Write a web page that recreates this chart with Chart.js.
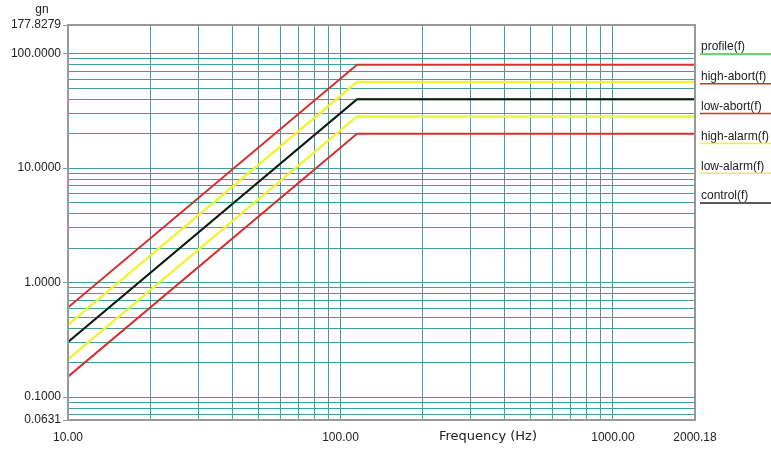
<!DOCTYPE html>
<html>
<head>
<meta charset="utf-8">
<script src="https://cdn.jsdelivr.net/npm/chart.js@4/dist/chart.umd.min.js"></script>
<style>
html,body{margin:0;padding:0;background:#fff;}
#wrap{width:771px;height:450px;position:relative;}
</style>
</head>
<body>
<div id="wrap"><canvas id="c" width="771" height="450"></canvas></div>
<script>
// ---- data ----
const frequencies = [10, 115, 2000.18];
const profileVals   = [0.3025, 40, 40];
const controlVals   = [0.3025, 40, 40];
const highAbortVals = [0.605, 80, 80];
const lowAbortVals  = [0.151, 20, 20];
const highAlarmVals = [0.428, 56.6, 56.6];
const lowAlarmVals  = [0.214, 28.3, 28.3];

const xMin = 10, xMax = 2000.18;
const yMin = 0.0631, yMax = 177.8279;
const xGridValues = [10,20,30,40,50,60,70,80,90,100,200,300,400,500,600,700,800,900,1000,2000.18];
const xLabelValues = [10, 100, 1000, 2000.18];
const yGridValues = [0.0631,0.07,0.08,0.09,0.1,0.2,0.3,0.4,0.5,0.6,0.7,0.8,0.9,1,2,3,4,5,6,7,8,9,10,20,30,40,50,60,70,80,90,100,177.8279];
const yLabelValues = [0.0631, 0.1, 1, 10, 100, 177.8279];

const legendNames = ['profile(f)','high-abort(f)','low-abort(f)','high-alarm(f)','low-alarm(f)','control(f)'];
const legendColors = ['#3fc43f','#d03232','#d03232','#eeee44','#eeee44','#222222'];

const GRID = '#3f9f9f';
const FRAME = '#999999';
const RED = '#d63030', YEL = '#f2f23a', BLK = '#141414', GRN = '#3fc43f';

function pts(vals){ return frequencies.map((f,i)=>({x:f,y:vals[i]})); }
function near(a,b){ return Math.abs(a-b) < 1e-6*Math.max(1,Math.abs(b)); }
function isIn(list,v){ return list.some(t=>near(t,v)); }

const textPlugin = {
  id:'extraText',
  afterDraw(chart){
    const ctx = chart.ctx;
    const ca = chart.chartArea;
    ctx.save();
    ctx.strokeStyle = FRAME; ctx.lineWidth = 2;
    ctx.strokeRect(ca.left, ca.top, ca.right-ca.left, ca.bottom-ca.top);
    ctx.fillStyle = '#222';
    ctx.font = '12px "Liberation Sans", Arial, sans-serif';
    ctx.textAlign = 'center'; ctx.textBaseline = 'middle';
    ctx.fillText('gn', 42, 10);
    ctx.font = '13px "DejaVu Sans", Verdana, sans-serif';
    ctx.fillText('Frequency (Hz)', 488, 437);
    ctx.font = '12px "Liberation Sans", Arial, sans-serif';
    ctx.textAlign = 'left';
    legendNames.forEach((n,i)=>{
      const y = 47 + i*29.8;
      ctx.fillStyle = '#222';
      ctx.fillText(n, 701, y);
      ctx.strokeStyle = legendColors[i];
      ctx.lineWidth = 1.5;
      ctx.beginPath(); ctx.moveTo(700, y+7); ctx.lineTo(771, y+7); ctx.stroke();
    });
    ctx.restore();
  }
};

new Chart(document.getElementById('c'), {
  type:'line',
  data:{
    datasets:[
      {label:'control(f)', data:pts(controlVals), borderColor:BLK, borderWidth:2},
      {label:'high-abort(f)', data:pts(highAbortVals), borderColor:RED, borderWidth:2},
      {label:'low-abort(f)', data:pts(lowAbortVals), borderColor:RED, borderWidth:2},
      {label:'high-alarm(f)', data:pts(highAlarmVals), borderColor:YEL, borderWidth:2.5},
      {label:'low-alarm(f)', data:pts(lowAlarmVals), borderColor:YEL, borderWidth:2.5},
      {label:'profile(f)', data:pts(profileVals), borderColor:GRN, borderWidth:2}
    ]
  },
  options:{
    responsive:false,
    animation:false,
    events:[],
    elements:{point:{radius:0}, line:{tension:0, fill:false}},
    layout:{padding:{top:25,right:76,left:0,bottom:0}},
    plugins:{legend:{display:false}, tooltip:{enabled:false}},
    scales:{
      x:{
        type:'logarithmic', min:xMin, max:xMax,
        afterBuildTicks(s){ s.ticks = xGridValues.map(v=>({value:v})); },
        afterFit(s){ s.height = 30; },
        grid:{color:(c)=> (c.tick && (near(c.tick.value,xMin)||near(c.tick.value,xMax))) ? FRAME : GRID, lineWidth:1, drawTicks:false},
        border:{display:true, color:FRAME, width:2},
        ticks:{
          autoSkip:false, maxRotation:0, padding:10,
          color:'#222', font:{family:'"Liberation Sans", Arial, sans-serif', size:12},
          callback(v){ return isIn(xLabelValues, v) ? Number(v).toFixed(2) : ''; }
        }
      },
      y:{
        type:'logarithmic', min:yMin, max:yMax,
        afterBuildTicks(s){ s.ticks = yGridValues.map(v=>({value:v})); },
        afterFit(s){ s.width = 68; },
        grid:{
          color:(c)=> (c.tick && (near(c.tick.value,yMin)||near(c.tick.value,yMax))) ? FRAME : GRID,
          lineWidth:1, drawTicks:true, tickLength:5,
          tickColor:(c)=> (c.tick && isIn(yLabelValues,c.tick.value)) ? FRAME : 'rgba(0,0,0,0)'
        },
        border:{display:true, color:FRAME, width:2},
        ticks:{
          autoSkip:false, padding:2,
          color:'#222', font:{family:'"Liberation Sans", Arial, sans-serif', size:12},
          callback(v){ return isIn(yLabelValues, v) ? Number(v).toFixed(4) : ''; }
        }
      }
    }
  },
  plugins:[textPlugin]
});
</script>
</body>
</html>
